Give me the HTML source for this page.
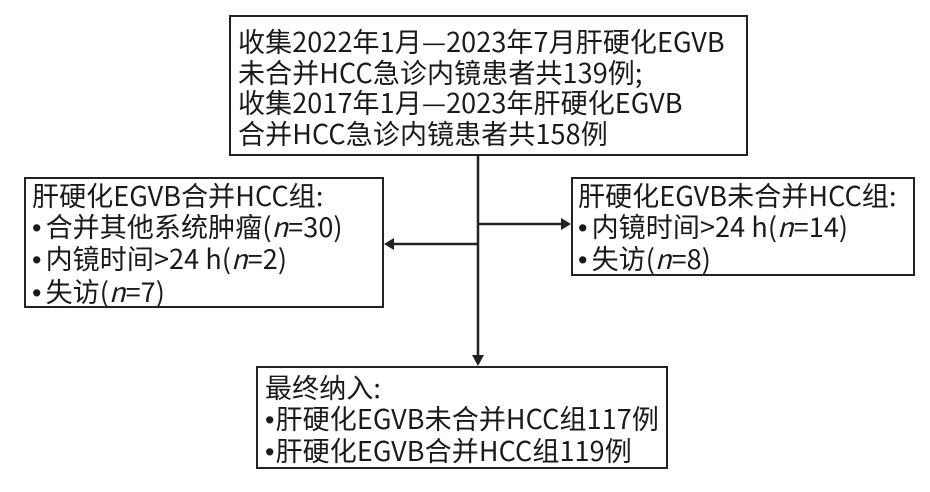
<!DOCTYPE html>
<html><head><meta charset="utf-8"><style>
body{margin:0;width:930px;height:492px;background:#fff;position:relative;overflow:hidden;font-family:"Liberation Sans","Noto Sans CJK SC",sans-serif;color:#1a1a1a}
.b{position:absolute;border:2.5px solid #222;box-sizing:border-box;font-family:"Noto Sans CJK SC",sans-serif;font-size:27px;line-height:30.5px;padding:0 0 0 7px;white-space:nowrap;letter-spacing:0.1px}
i{font-style:italic}
.d{font-family:"Liberation Sans",sans-serif;margin-right:4px}
</style></head><body>
<div class="b" style="left:229px;top:15px;width:519px;height:141px;padding-top:9px">收集2022年1月—2023年7月肝硬化EGVB<br>未合并HCC急诊内镜患者共139例;<br>收集2017年1月—2023年肝硬化EGVB<br>合并HCC急诊内镜患者共158例</div>
<div class="b" style="left:24px;top:177px;width:360px;height:131px;padding-left:6px;padding-top:1px">肝硬化EGVB合并HCC组:<br><span class="d">•</span>合并其他系统肿瘤(<i>n</i>=30)<br><span class="d">•</span>内镜时间&gt;24 h(<i>n</i>=2)<br><span class="d">•</span>失访(<i>n</i>=7)</div>
<div class="b" style="left:571px;top:177px;width:344px;height:99px;padding-left:5px;padding-top:1px">肝硬化EGVB未合并HCC组:<br><span class="d">•</span>内镜时间&gt;24 h(<i>n</i>=14)<br><span class="d">•</span>失访(<i>n</i>=8)</div>
<div class="b" style="left:256px;top:366px;width:412px;height:103px;padding-left:7px;padding-top:4px">最终纳入:<br><span class="d" style="margin-right:1px">•</span>肝硬化EGVB未合并HCC组117例<br><span class="d" style="margin-right:1px">•</span>肝硬化EGVB合并HCC组119例</div>
<svg width="930" height="492" style="position:absolute;left:0;top:0">
<g stroke="#222" stroke-width="2.5" fill="none">
<line x1="478" y1="156" x2="478" y2="356"/>
<line x1="478" y1="224" x2="562" y2="224"/>
<line x1="478" y1="244" x2="394" y2="244"/>
</g>
<g fill="#222">
<polygon points="571,224 561,218 561,230"/>
<polygon points="384,244 394,238 394,250"/>
<polygon points="478,366 472,355 484,355"/>
</g>
</svg>
</body></html>
